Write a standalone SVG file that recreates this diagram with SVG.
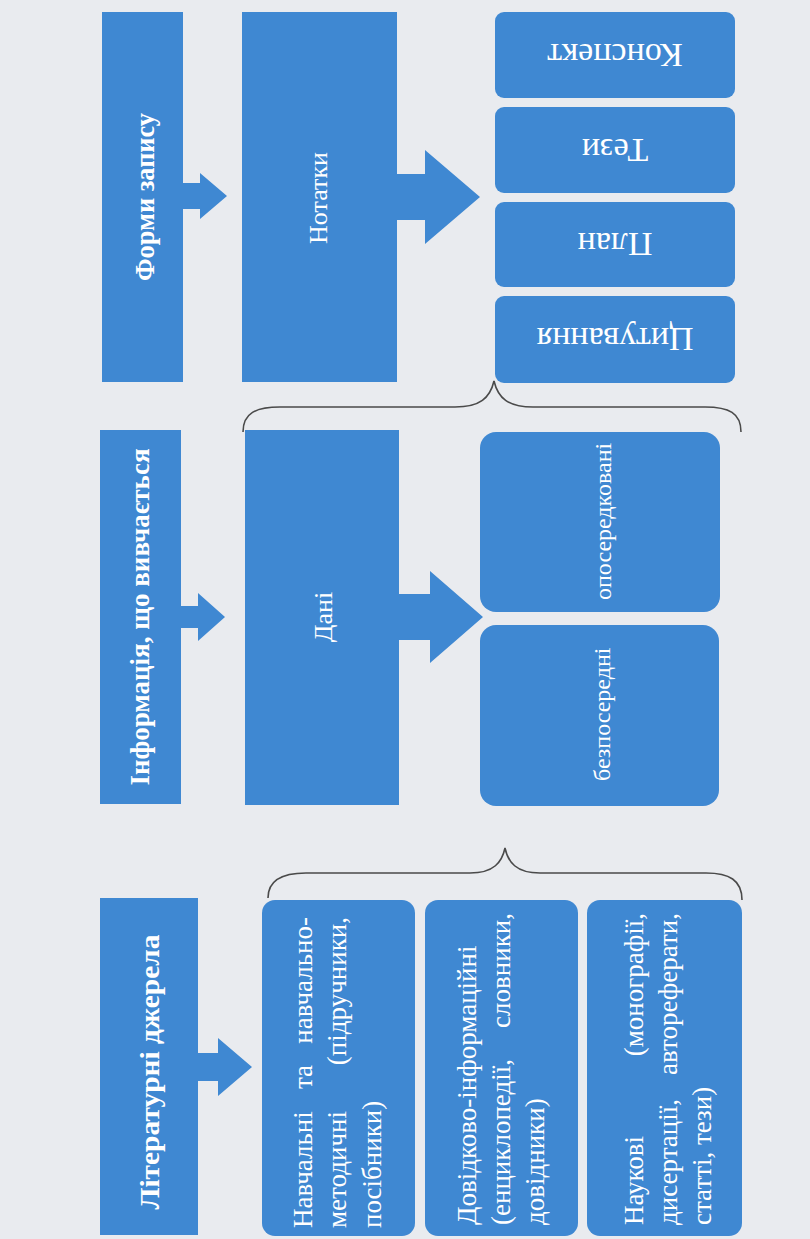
<svg xmlns="http://www.w3.org/2000/svg" width="810" height="1239" viewBox="0 0 810 1239">
<style>
.box{fill:#3f88d2}
.arrow{fill:#3f88d2}
.brace{fill:none;stroke:#4a4a4a;stroke-width:1.6}
text{font-family:"Liberation Serif","Times New Roman",serif;fill:#ffffff;dominant-baseline:central}
.title{font-weight:bold;font-size:27px;text-anchor:middle}
.mid{font-size:26px;text-anchor:middle}
.small{font-size:34px;text-anchor:middle}
.sub{font-size:24px;text-anchor:start}
.lit{font-size:27px}
.s{text-anchor:start}
.e{text-anchor:end}
.m{text-anchor:middle}
</style>
<rect x="0" y="0" width="810" height="1239" fill="#e9ebef"/>

<g id="connectors">
  <polygon class="arrow" points="183,183 200,183 200,173 227,196 200,219 200,209 183,209"/>
  <polygon class="arrow" points="397,174 425,174 425,150 480,197 425,244 425,220 397,220"/>
  <polygon class="arrow" points="181,606 198,606 198,593 225,617 198,641 198,628 181,628"/>
  <polygon class="arrow" points="399,594 430,594 430,571 483,617 430,663 430,640 399,640"/>
  <polygon class="arrow" points="198,1053 218,1053 218,1038 252,1067 218,1096 218,1081 198,1081"/>
  <path class="brace" d="M243,432 C243,413 256,407 280,407 L455,407 C480,407 490,398 494,381 C498,398 508,407 533,407 L705,407 C729,407 741,413 741,432"/>
  <path class="brace" d="M268,898 C268,880 282,873 306,873 L470,873 C494,873 502,862 505,848 C508,862 516,873 540,873 L706,873 C729,873 742,880 742,900"/>
</g>

<g id="forms">
  <rect class="box" x="102" y="12" width="81" height="370"/>
  <text class="title" x="145" y="197" transform="rotate(-90 145 197)" textLength="168" lengthAdjust="spacingAndGlyphs">Форми запису</text>
</g>
<g id="notes">
  <rect class="box" x="242" y="12" width="155" height="370"/>
  <text class="mid" x="318" y="198" transform="rotate(-90 318 198)">Нотатки</text>
</g>
<g id="konspekt">
  <rect class="box" x="495" y="12" width="240" height="86" rx="9"/>
  <text class="small" x="615" y="55" transform="rotate(180 615 55)">Конспект</text>
</g>
<g id="tezy">
  <rect class="box" x="495" y="107" width="240" height="86" rx="9"/>
  <text class="small" x="615" y="150" transform="rotate(180 615 150)">Тези</text>
</g>
<g id="plan">
  <rect class="box" x="495" y="202" width="240" height="85" rx="9"/>
  <text class="small" x="615" y="244" transform="rotate(180 615 244)">План</text>
</g>
<g id="tsytuvannia">
  <rect class="box" x="495" y="296" width="240" height="87" rx="9"/>
  <text class="small" x="615" y="339" transform="rotate(180 615 339)">Цитування</text>
</g>

<g id="info">
  <rect class="box" x="100" y="430" width="81" height="374"/>
  <text class="title" x="140" y="617" transform="rotate(-90 140 617)" textLength="337" lengthAdjust="spacingAndGlyphs">Інформація, що вивчається</text>
</g>
<g id="dani">
  <rect class="box" x="245" y="430" width="154" height="375"/>
  <text class="mid" x="323" y="617" transform="rotate(-90 323 617)">Дані</text>
</g>
<g id="oposeredkovani">
  <rect class="box" x="480" y="432" width="240" height="180" rx="16"/>
  <text class="sub" x="603" y="600" transform="rotate(-90 603 600)">опосередковані</text>
</g>
<g id="bezposeredni">
  <rect class="box" x="480" y="625" width="239" height="181" rx="16"/>
  <text class="sub" x="602" y="781" transform="rotate(-90 602 781)">безпосередні</text>
</g>

<g id="literature">
  <rect class="box" x="100" y="898" width="98" height="337"/>
  <text class="title" x="150" y="1072" transform="rotate(-90 150 1072)" textLength="275" lengthAdjust="spacingAndGlyphs">Літературні джерела</text>
</g>
<g id="navchalni">
  <rect class="box" x="262" y="900" width="153" height="336" rx="13"/>
  <g transform="rotate(-90 0 0)">
    <text class="lit s" x="-1228" y="303">Навчальні</text>
    <text class="lit m" x="-1077" y="303">та</text>
    <text class="lit e" x="-917" y="303">навчально-</text>
    <text class="lit s" x="-1228" y="337">методичні</text>
    <text class="lit e" x="-917" y="337">(підручники,</text>
    <text class="lit s" x="-1228" y="372">посібники)</text>
  </g>
</g>
<g id="dovidkovi">
  <rect class="box" x="425" y="900" width="153" height="336" rx="13"/>
  <g transform="rotate(-90 0 0)">
    <text class="lit s" x="-1225" y="467">Довідково-інформаційні</text>
    <text class="lit s" x="-1225" y="501">(енциклопедії,</text>
    <text class="lit e" x="-913" y="501">словники,</text>
    <text class="lit s" x="-1225" y="535">довідники)</text>
  </g>
</g>
<g id="naukovi">
  <rect class="box" x="587" y="900" width="155" height="336" rx="13"/>
  <g transform="rotate(-90 0 0)">
    <text class="lit s" x="-1225" y="634">Наукові</text>
    <text class="lit e" x="-913" y="634">(монографії,</text>
    <text class="lit s" x="-1225" y="668">дисертації,</text>
    <text class="lit e" x="-913" y="668">автореферати,</text>
    <text class="lit s" x="-1225" y="702">статті, тези)</text>
  </g>
</g>
</svg>
